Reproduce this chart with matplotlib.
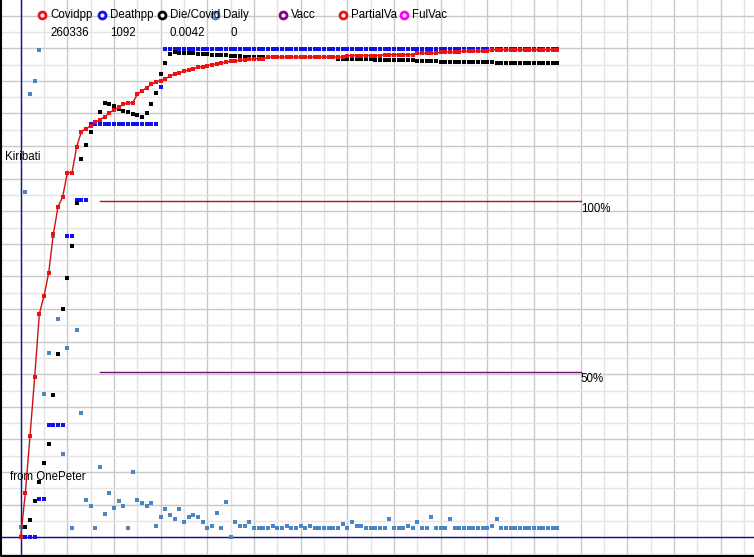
import matplotlib
matplotlib.use("Agg")
import matplotlib.pyplot as plt

# ---- data (x = day index, y = chart units, 10 per grid row) ----
covidpp = [
    0, 27.4, 62.3, 98.5, 137.2, 148.0, 162.3, 186.1, 202.8, 209.0,
    223.7, 223.7, 239.6, 248.8, 250.7, 252.5, 254.8, 256.2, 258.0, 260.3,
    262.2, 263.7, 265.5, 266.6, 266.6, 271.8, 273.8, 275.8, 277.8, 279.5,
    280.1, 281.3, 283.1, 284.3, 285.1, 285.8, 286.8, 287.4, 288.2, 288.8,
    289.4, 289.9, 290.5, 291.1, 291.4, 292.0, 292.3, 292.6, 292.9, 293.3,
    293.6, 293.6, 293.6, 294.6, 294.6, 294.6, 294.6, 294.6, 294.6, 294.6,
    294.6, 294.6, 294.6, 294.6, 294.6, 294.6, 294.6, 294.6, 294.6, 294.6,
    295.5, 295.5, 295.5, 295.5, 295.5, 295.5, 295.5, 295.5, 296.1, 296.1,
    296.1, 296.1, 296.1, 296.1, 296.1, 296.9, 296.9, 296.9, 296.9, 296.9,
    297.7, 297.7, 297.7, 297.7, 297.7, 298.3, 298.3, 298.3, 298.3, 298.3,
    298.3, 299.1, 299.1, 299.1, 299.1, 299.1, 299.1, 299.1, 299.1, 299.1,
    299.1, 299.1, 299.1, 299.1, 299.1, 299.1,
]
deathpp = [
    0, 0, 0, 0, 23.3, 23.3, 69.1, 69.1, 69.1, 69.1,
    184.7, 184.7, 207.2, 207.2, 207.2, 253.4, 253.4, 253.4, 253.4, 253.4,
    253.4, 253.4, 253.4, 253.4, 253.4, 253.4, 253.4, 253.4, 253.4, 253.4,
    276.4, 299.3, 299.3, 299.3, 299.3, 299.3, 299.3, 299.3, 299.3, 299.3,
    299.3, 299.3, 299.3, 299.3, 299.3, 299.3, 299.3, 299.3, 299.3, 299.3,
    299.3, 299.3, 299.3, 299.3, 299.3, 299.3, 299.3, 299.3, 299.3, 299.3,
    299.3, 299.3, 299.3, 299.3, 299.3, 299.3, 299.3, 299.3, 299.3, 299.3,
    299.3, 299.3, 299.3, 299.3, 299.3, 299.3, 299.3, 299.3, 299.3, 299.3,
    299.3, 299.3, 299.3, 299.3, 299.3, 299.3, 299.3, 299.3, 299.3, 299.3,
    299.3, 299.3, 299.3, 299.3, 299.3, 299.3, 299.3, 299.3, 299.3, 299.3,
    299.3, 299.3, 299.3, 299.3, 299.3, 299.3, 299.3, 299.3, 299.3, 299.3,
    299.3, 299.3, 299.3, 299.3, 299.3, 299.3,
]
die_covid = [
    0, 6.5, 10.8, 22.5, 34.1, 45.8, 57.4, 87.5, 112.6, 140.2,
    159.3, 178.9, 205.3, 232.3, 240.9, 248.8, 255.0, 260.6, 266.7, 265.5,
    264.3, 262.8, 261.8, 260.9, 259.9, 259.3, 258.0, 260.5, 266.0, 272.3,
    284.0, 290.8, 296.5, 297.5, 297.3, 297.1, 297.1, 296.8, 296.5, 296.5,
    296.2, 295.9, 295.9, 295.9, 295.6, 295.4, 295.2, 295.0, 294.8, 294.8,
    294.8, 294.8, 294.8, 294.8, 294.8, 294.8, 294.8, 294.8, 294.8, 294.8,
    294.8, 294.8, 294.8, 294.8, 294.8, 294.8, 294.8, 294.8, 293.6, 293.6,
    293.6, 293.6, 293.6, 293.6, 293.6, 293.6, 292.8, 292.8, 292.8, 292.8,
    292.8, 292.8, 292.8, 292.8, 292.8, 292.2, 292.2, 292.2, 292.2, 292.2,
    291.4, 291.4, 291.4, 291.4, 291.4, 291.4, 291.4, 291.4, 291.4, 291.4,
    291.4, 291.4, 290.8, 290.8, 290.8, 290.8, 290.8, 290.8, 290.8, 290.8,
    290.8, 290.8, 290.8, 290.8, 290.8, 290.8,
]
daily = [
    6.3, 212, 272, 280, 299, 88, 113, 185, 134, 51,
    116, 5.9, 127, 76, 23, 19, 5.9, 43, 14, 27,
    18, 22, 19, 5.9, 40, 23, 21, 19, 21, 7.1,
    12.6, 17.5, 13.9, 11.4, 17.5, 9.6, 12.6, 13.9, 12.6, 9.6,
    5.9, 7.1, 15.1, 5.9, 21.8, 0.4, 9.6, 7.1, 7.1, 9.6,
    5.9, 5.9, 5.9, 5.9, 7.1, 5.9, 5.9, 7.1, 5.9, 5.9,
    7.1, 5.9, 7.1, 5.9, 5.9, 5.9, 5.9, 5.9, 5.9, 8.3,
    5.9, 9.6, 7.1, 7.1, 5.9, 5.9, 5.9, 5.9, 5.9, 11.2,
    5.9, 5.9, 5.9, 7.1, 5.9, 9.6, 5.9, 5.9, 12.5, 5.9,
    5.9, 5.9, 11.2, 5.9, 5.9, 5.9, 5.9, 5.9, 5.9, 5.9,
    5.9, 7.1, 11.2, 5.9, 5.9, 5.9, 5.9, 5.9, 5.9, 5.9,
    5.9, 5.9, 5.9, 5.9, 5.9, 5.9,
]
days = list(range(len(daily)))

legend_names = ["Covidpp", "Deathpp", "Die/Covid", "Daily", "Vacc", "PartialVa", "FulVac"]
legend_colors = ["#ee1111", "#1010ee", "#000000", "#4a86c4", "#800080", "#ee1111", "#ff00ff"]
legend_values = ["260336", "1092", "0.0042", "0"]

ref_levels = [206.0, 101.5]   # 100% and 50% guide lines
ref_labels = ["100%", "50%"]
ref_colors = ["#c01010", "#701070"]

W, H = 754, 557
FONT = dict(fontsize=8.3, family="Liberation Sans")

fig = plt.figure(figsize=(W / 100, H / 100), dpi=100)
ax = fig.add_axes([0, 0, 1, 1])
ax.set_xlim(-4.436, 157.14)
ax.set_ylim(-12.09, 329.6)
ax.axis("off")

# grid: every 5 days / 10 units, darker every other line
for k in range(-5, 160, 5):
    ax.axvline(k, color="#c8c8c8" if k % 10 == 0 else "#e4e4e4", lw=1, zorder=0)
for v in range(-10, 330, 10):
    ax.axhline(v, color="#c8c8c8" if v % 20 == 0 else "#e4e4e4", lw=1, zorder=0)
ax.axvline(0, color="#1010a0", lw=1, zorder=1)
ax.axhline(0, color="#1010a0", lw=1, zorder=1)

# guide lines
for lvl, lab, col in zip(ref_levels, ref_labels, ref_colors):
    ax.plot([17, 120], [lvl, lvl], color=col, lw=1, zorder=2)
    ax.annotate(lab, (120, lvl), xytext=(0, -1), textcoords="offset points",
                ha="left", va="top", **FONT)

ms = 3.0
ax.plot(days, deathpp, "s", color="#1010ee", ms=ms, mew=0, zorder=3)
ax.plot(days, die_covid, "s", color="#000000", ms=ms, mew=0, zorder=3)
ax.plot(days, daily, "s", color="#4a86c4", ms=ms, mew=0, zorder=3)
ax.plot(days, covidpp, "-", color="#cc1111", lw=1, zorder=4)
ax.plot(days, covidpp, "s", color="#ee1111", ms=ms, mew=0, zorder=4)

# legend row (figure pixel positions)
leg_x = [42, 102, 162, 215, 283, 343, 404]
for x, name, col in zip(leg_x, legend_names, legend_colors):
    fig.lines.append(plt.Line2D([x / W], [1 - 15 / H], transform=fig.transFigure,
                                marker="o", ms=5, mew=2, mfc="white", mec=col))
    fig.text((x + 8) / W, 1 - 15 / H, name, ha="left", va="center", **FONT)
for x, val in zip([50, 110, 170, 230], legend_values):
    fig.text(x / W, 1 - 33 / H, val, ha="left", va="center", **FONT)

fig.text(5 / W, 1 - 157 / H, "Kiribati", ha="left", va="center", **FONT)
fig.text(10 / W, 1 - 477 / H, "from OnePeter", ha="left", va="center", **FONT)

# window frame
fig.lines.append(plt.Line2D([0.5 / W, 0.5 / W, 1], [1, 1.5 / H, 1.5 / H],
                            transform=fig.transFigure, color="black", lw=1.5))

fig.savefig("out.png", dpi=100)
